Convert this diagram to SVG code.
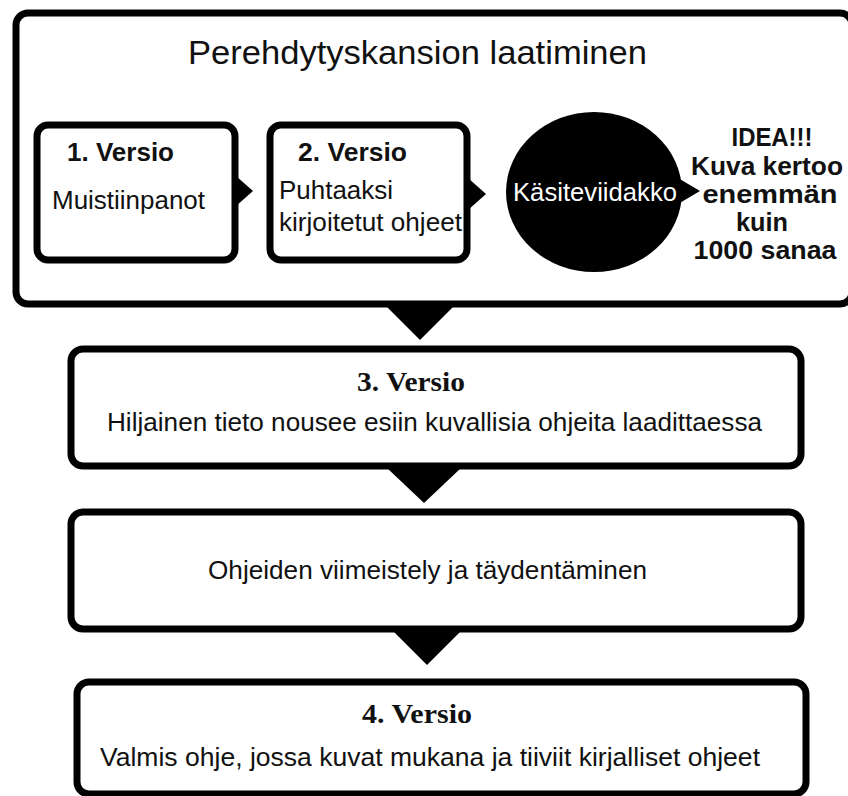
<svg xmlns="http://www.w3.org/2000/svg" width="848" height="796" viewBox="0 0 848 796">
<style>
.box{fill:#fff;stroke:#000;stroke-width:7}
.arr{fill:#000;stroke:none}
.t{font-family:"Liberation Sans",Arial,sans-serif;fill:#111}
.b{font-family:"Liberation Sans",Arial,sans-serif;font-weight:bold;fill:#111}
.s{font-family:"Liberation Serif","Times New Roman",serif;font-weight:bold;fill:#111}
</style>
<rect width="848" height="796" fill="#fff"/>
<g id="outer">
<rect class="box" x="16" y="13" width="836" height="291" rx="12"/>
<text class="t" x="188" y="64" font-size="33" textLength="459" lengthAdjust="spacingAndGlyphs">Perehdytyskansion laatiminen</text>
</g>
<g id="v1">
<rect class="box" x="37" y="125" width="198" height="135" rx="11"/>
<text class="b" x="67" y="161" font-size="26" textLength="107" lengthAdjust="spacingAndGlyphs">1. Versio</text>
<text class="t" x="52" y="209" font-size="26" textLength="153" lengthAdjust="spacingAndGlyphs">Muistiinpanot</text>
</g>
<g id="v2">
<rect class="box" x="270" y="125" width="197" height="135" rx="11"/>
<text class="b" x="298" y="161" font-size="26" textLength="109" lengthAdjust="spacingAndGlyphs">2. Versio</text>
<text class="t" x="279" y="199" font-size="26" textLength="114" lengthAdjust="spacingAndGlyphs">Puhtaaksi</text>
<text class="t" x="279" y="231" font-size="26" textLength="183" lengthAdjust="spacingAndGlyphs">kirjoitetut ohjeet</text>
</g>
<g id="kasite">
<ellipse cx="594" cy="192" rx="88" ry="80" fill="#000"/>
<text x="513" y="201" font-size="26" textLength="164" lengthAdjust="spacingAndGlyphs" style="font-family:'Liberation Sans',Arial,sans-serif;fill:#fff">Käsiteviidakko</text>
</g>
<g id="idea" class="b" font-size="26" text-anchor="middle">
<text x="772" y="146" textLength="81" lengthAdjust="spacingAndGlyphs">IDEA!!!</text>
<text x="767" y="175" textLength="152" lengthAdjust="spacingAndGlyphs">Kuva kertoo</text>
<text x="770" y="203" textLength="135" lengthAdjust="spacingAndGlyphs">enemmän</text>
<text x="762" y="231" textLength="52" lengthAdjust="spacingAndGlyphs">kuin</text>
<text x="765" y="259" textLength="143" lengthAdjust="spacingAndGlyphs">1000 sanaa</text>
</g>
<g id="v3">
<rect class="box" x="71" y="349" width="730" height="117" rx="12"/>
<text class="s" x="357" y="391" font-size="27" textLength="108" lengthAdjust="spacingAndGlyphs">3. Versio</text>
<text class="t" x="107" y="431" font-size="26" textLength="655" lengthAdjust="spacingAndGlyphs">Hiljainen tieto nousee esiin kuvallisia ohjeita laadittaessa</text>
</g>
<g id="viimeistely">
<rect class="box" x="71" y="512" width="730" height="117" rx="12"/>
<text class="t" x="208" y="579" font-size="26" textLength="439" lengthAdjust="spacingAndGlyphs">Ohjeiden viimeistely ja täydentäminen</text>
</g>
<g id="v4">
<rect class="box" x="77" y="682" width="729" height="112" rx="12"/>
<text class="s" x="362" y="723" font-size="27" textLength="110" lengthAdjust="spacingAndGlyphs">4. Versio</text>
<text class="t" x="100" y="766" font-size="26" textLength="660" lengthAdjust="spacingAndGlyphs">Valmis ohje, jossa kuvat mukana ja tiiviit kirjalliset ohjeet</text>
</g>
<g id="connectors">
<polygon class="arr" points="236,176 253,191 236,206"/>
<polygon class="arr" points="468,178 486,194 468,210"/>
<polygon class="arr" points="678,178 700,191 678,204"/>
<polygon class="arr" points="382,302 458,302 420,340"/>
<polygon class="arr" points="387,468 461,468 424,503"/>
<polygon class="arr" points="393,631 461,631 427,665"/>
</g>
</svg>
